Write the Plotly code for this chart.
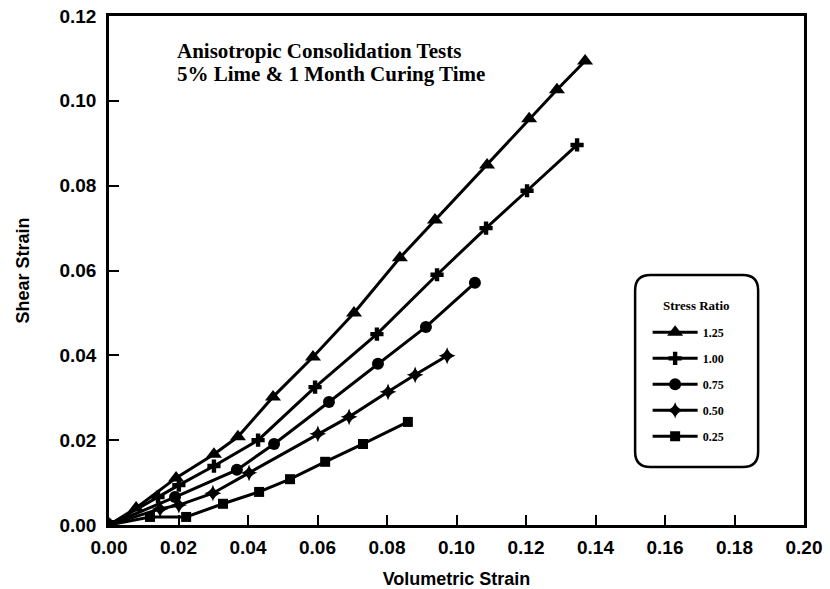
import plotly.graph_objects as go

# ---- data ----
ratios = ["1.25", "1.00", "0.75", "0.50", "0.25"]

vol_125 = [0.0, 0.0078, 0.0193, 0.0302, 0.0371, 0.0472, 0.0587, 0.0705, 0.0837, 0.0938, 0.1088, 0.1209, 0.1289, 0.1370]
shr_125 = [0.0, 0.0040, 0.0111, 0.0167, 0.0208, 0.0302, 0.0396, 0.0500, 0.0630, 0.0719, 0.0849, 0.0958, 0.1026, 0.1094]

vol_100 = [0.0, 0.0141, 0.0201, 0.0302, 0.0429, 0.0593, 0.0771, 0.0944, 0.1085, 0.1203, 0.1347]
shr_100 = [0.0, 0.0066, 0.0094, 0.0139, 0.0200, 0.0325, 0.0450, 0.0590, 0.0700, 0.0788, 0.0896]

vol_075 = [0.0, 0.0190, 0.0368, 0.0475, 0.0633, 0.0774, 0.0912, 0.1053]
shr_075 = [0.0, 0.0066, 0.0130, 0.0191, 0.0290, 0.0380, 0.0467, 0.0571]

vol_050 = [0.0, 0.0147, 0.0201, 0.0299, 0.0403, 0.0601, 0.0691, 0.0803, 0.0881, 0.0973]
shr_050 = [0.0, 0.0038, 0.0047, 0.0075, 0.0123, 0.0215, 0.0255, 0.0314, 0.0354, 0.0399]

vol_025 = [0.0, 0.0118, 0.0222, 0.0328, 0.0432, 0.0521, 0.0622, 0.0731, 0.0860]
shr_025 = [0.0, 0.0019, 0.0019, 0.0050, 0.0078, 0.0108, 0.0149, 0.0191, 0.0243]

x_ticks = [0.00, 0.02, 0.04, 0.06, 0.08, 0.10, 0.12, 0.14, 0.16, 0.18, 0.20]
y_ticks = [0.00, 0.02, 0.04, 0.06, 0.08, 0.10, 0.12]

series = [
    (ratios[0], vol_125, shr_125, "triangle-up", 14),
    (ratios[1], vol_100, shr_100, "cross", 11),
    (ratios[2], vol_075, shr_075, "circle", 12),
    (ratios[3], vol_050, shr_050, "star-diamond", 12),
    (ratios[4], vol_025, shr_025, "square", 10),
]

SANS = "Liberation Sans, Arial, sans-serif"
SERIF = "Liberation Serif, Times New Roman, serif"

fig = go.Figure()
for i, (name, xs, ys, sym, sz) in enumerate(series):
    fig.add_trace(go.Scatter(
        x=xs, y=ys, name=name, mode="lines+markers",
        legendgroup=f"g{i}",
        line=dict(color="black", width=3),
        marker=dict(symbol=sym, size=sz, color="black", line=dict(width=0)),
    ))

axis_common = dict(
    showgrid=False, zeroline=False, automargin=False,
    showline=True, linecolor="black", linewidth=2.5, mirror=True,
    ticks="inside", ticklen=10, tickwidth=2, tickcolor="black",
    tickfont=dict(family=SANS, size=19, color="black", weight="bold"),
)

fig.update_xaxes(
    range=[0, 0.2], tickvals=x_ticks, tickformat=".2f",
    ticklabelstandoff=3,
    title=dict(text="Volumetric Strain", standoff=16,
               font=dict(family=SANS, size=18, color="black", weight="bold")),
    **axis_common,
)
fig.update_yaxes(
    range=[0, 0.12], tickvals=y_ticks, tickformat=".2f",
    ticklabelstandoff=6,
    title=dict(text="Shear Strain", standoff=26,
               font=dict(family=SANS, size=18, color="black", weight="bold")),
    **axis_common,
)

# title text inside plot
fig.add_annotation(x=0.095, y=0.931, xref="paper", yref="paper",
                   xanchor="left", yanchor="middle", showarrow=False,
                   text="Anisotropic Consolidation Tests",
                   font=dict(family=SERIF, size=21, color="black", weight="bold"))
fig.add_annotation(x=0.095, y=0.886, xref="paper", yref="paper",
                   xanchor="left", yanchor="middle", showarrow=False,
                   text="5% Lime & 1 Month Curing Time",
                   font=dict(family=SERIF, size=21, color="black", weight="bold"))

# rounded legend frame and its heading
x0, x1, y0, y1 = 0.757, 0.934, 0.114, 0.491
rx, ry = 0.022, 0.030
path = (f"M {x0+rx},{y1} L {x1-rx},{y1} Q {x1},{y1} {x1},{y1-ry} "
        f"L {x1},{y0+ry} Q {x1},{y0} {x1-rx},{y0} "
        f"L {x0+rx},{y0} Q {x0},{y0} {x0},{y0+ry} "
        f"L {x0},{y1-ry} Q {x0},{y1} {x0+rx},{y1} Z")
fig.add_shape(type="path", path=path, xref="paper", yref="paper",
              line=dict(color="black", width=2.5), fillcolor="white", layer="below")
fig.add_annotation(x=0.845, y=0.432, xref="paper", yref="paper",
                   xanchor="center", yanchor="middle", showarrow=False,
                   text="Stress Ratio",
                   font=dict(family=SERIF, size=13, color="black", weight="bold"))

fig.update_layout(
    width=830, height=589,
    margin=dict(l=109, r=26, t=16, b=64),
    paper_bgcolor="white", plot_bgcolor="white",
    showlegend=True,
    legend=dict(
        x=0.775, y=0.407, xanchor="left", yanchor="top",
        bgcolor="rgba(0,0,0,0)", borderwidth=0,
        tracegroupgap=7, itemwidth=45,
        font=dict(family=SERIF, size=12, color="black", weight="bold"),
    ),
)

# remove the default 8px page margin so the figure fills the window exactly
fig.write_html("out.html", config={"displayModeBar": False},
               post_script="document.body.style.margin='0px';")
